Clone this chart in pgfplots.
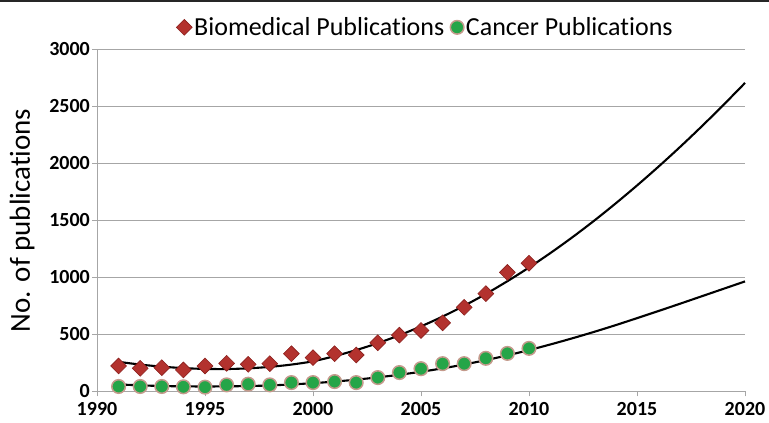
\documentclass[border=0pt]{standalone}
\usepackage{pgfplots}
\pgfplotsset{compat=1.18}
\usepackage{fontspec}
\setmainfont{Carlito}[RawFeature={-liga;-dlig;-clig;-calt}]
\definecolor{gridgray}{HTML}{A6A6A6}
\definecolor{bioRed}{HTML}{B3322E}
\definecolor{bioRedDark}{HTML}{8A1F1C}
\definecolor{canGreen}{HTML}{25A548}
\definecolor{canEdge}{HTML}{C49A8C}
\newcommand{\ti}{t\kern0pt i}
\begin{document}
\begin{tikzpicture}
\begin{axis}[
  at={(97pt,31.5pt)}, anchor=south west,
  scale only axis, width=648pt, height=342.2pt,
  xmin=1990, xmax=2020, ymin=0, ymax=3000,
  xtick={1990,1995,...,2020}, ytick={0,500,...,3000},
  axis x line*=bottom, axis y line*=left,
  axis line style={gridgray, line width=0.8pt},
  tick style={gridgray, line width=0.8pt},
  tick align=outside, major tick length=5pt,
  ymajorgrids, grid style={gridgray, line width=0.8pt},
  /pgf/number format/assume math mode=true,
  /pgf/number format/1000 sep={},
  tick label style={font=\fontsize{20}{24}\selectfont\bfseries, inner sep=2pt},
  xticklabel style={inner sep=0pt, yshift=-5.5pt},
  ylabel={No. of publica\ti ons},
  ylabel style={at={(axis description cs:-0.1157,0.5)}, anchor=center, font=\fontsize{29}{34}\selectfont},
  legend columns=2,
  legend style={at={(axis description cs:0.507,1)}, anchor=south, yshift=8pt, draw=none, fill=none,
    font=\fontsize{26}{30}\selectfont, /tikz/every even column/.append style={column sep=4pt}},
  legend image code/.code={\draw[#1] plot coordinates {(0pt,0pt)};},
  clip=false,
]
\addplot[only marks, mark=square*, mark size=5.6pt, mark options={rotate=45, fill=bioRed, draw=bioRedDark, line width=0.6pt}]
coordinates {(1991,224)(1992,203)(1993,209)(1994,189)(1995,224)(1996,247)(1997,238)(1998,244)(1999,331)(2000,297)
(2001,331)(2002,320)(2003,427)(2004,494)(2005,535)(2006,602)(2007,738)(2008,858)(2009,1044)(2010,1125)};
\addlegendentry{Biomedical Publica\ti ons}
\addplot[only marks, mark=*, mark size=6.8pt, mark options={fill=canGreen, draw=canEdge, line width=1.5pt}]
coordinates {(1991,44)(1992,44)(1993,44)(1994,41)(1995,38)(1996,58)(1997,64)(1998,58)(1999,78)(2000,78)
(2001,87)(2002,78)(2003,122)(2004,166)(2005,200)(2006,244)(2007,244)(2008,291)(2009,334)(2010,378)};
\addlegendentry{Cancer Publica\ti ons}
% trend lines
\addplot[forget plot, black, line width=2.1pt, smooth] coordinates {
(1991,260)(1992,236)(1993,218)(1994,205)(1995,198)(1996,197)(1997,203)(1998,216)(1999,236)(2000,265)
(2001,310)(2002,363)(2003,424)(2004,493)(2005,571)(2006,657)(2007,752)(2008,855)(2009,967)(2010,1087)
(2011,1215)(2012,1351)(2013,1495)(2014,1647)(2015,1806)(2016,1972)(2017,2145)(2018,2325)(2019,2512)(2020,2705)};
\addplot[forget plot, black, line width=2.1pt, smooth] coordinates {
(1991,62)(1992,54)(1993,48)(1994,45)(1995,44)(1996,45)(1997,48)(1998,53)(1999,62)(2000,73)
(2001,87)(2002,104)(2003,124)(2004,147)(2005,173)(2006,203)(2007,237)(2008,275)(2009,317)(2010,363)
(2011,413)(2012,466)(2013,522)(2014,581)(2015,643)(2016,706)(2017,770)(2018,835)(2019,900)(2020,965)};
\end{axis}
\pgfresetboundingbox
\useasboundingbox (0,0) rectangle (769pt,423pt);
\fill[black!85] (0,420.5pt) rectangle (769pt,423pt);
\end{tikzpicture}
\end{document}
